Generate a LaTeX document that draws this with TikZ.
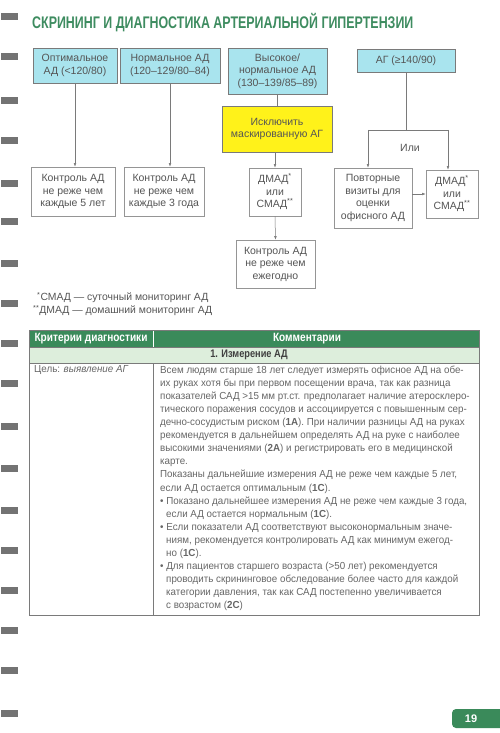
\documentclass[tikz,border=0pt]{standalone}
\usepackage{fontspec}
\setmainfont{Liberation Sans}
\newfontfamily\condfont{Liberation Sans}[FakeStretch=0.96]
\newfontfamily\headfont{Liberation Sans}[FakeStretch=0.84]
\newfontfamily\titlefont{Liberation Sans}[FakeStretch=0.74]
\usetikzlibrary{positioning, arrows.meta}
\definecolor{gTitle}{HTML}{3E8C60}
\definecolor{gHead}{HTML}{3A8A5A}
\definecolor{gLight}{HTML}{DDEEDC}
\definecolor{bCyan}{HTML}{A9E4EE}
\definecolor{bYellow}{HTML}{FFF21A}
\definecolor{txtGray}{HTML}{555555}
\definecolor{lineGray}{HTML}{7A7A7A}

\begin{document}
\begin{tikzpicture}[
  x=1pt, y=-1pt,
  every node/.style={font=\fontsize{10.5}{12.5}\selectfont, align=center, text=txtGray, inner sep=1pt},
  level/.style={
    fill=bCyan,
    draw=lineGray,
    line width=0.6pt
  },
  action/.style={
    fill=bYellow,
    draw=lineGray,
    line width=0.6pt
  },
  result/.style={
    fill=white,
    draw=lineGray!80,
    line width=0.6pt
  },
  link/.style={draw=lineGray, -{Latex[length=3.5pt,width=2.6pt]}, line width=0.5pt},
  plain/.style={draw=lineGray, line width=0.5pt},
  note/.style={font=\fontsize{10.4}{12.5}\selectfont, anchor=west},
  cell/.style={font=\condfont\fontsize{10.2}{13.1}\selectfont, text=txtGray!90, align=left, anchor=north west},
  binder/.style={fill=black!55}
]
\useasboundingbox (0,0) rectangle (500,733);

% binding
\foreach \y in {13,53,97,137,180,218,260,300,340,380,423,465,507,547,587,627,667,710}
  \fill[binder] (1,\y) rectangle (18,\y+7);

% title
\node[anchor=west, text=gTitle, font=\titlefont\bfseries\fontsize{16.8}{20}\selectfont] (title) at (31,23)
  {СКРИНИНГ И ДИАГНОСТИКА АРТЕРИАЛЬНОЙ ГИПЕРТЕНЗИИ};

% pressure levels
\node[level, minimum width=84pt, minimum height=35pt] (opt) at (75,65.5) {Оптимальное\\АД (<120/80)};
\node[level, minimum width=100pt, minimum height=35pt] (norm) at (170,65.5) {Нормальное АД\\(120–129/80–84)};
\node[level, minimum width=99pt, minimum height=46pt] (high) at (277.5,71) {Высокое/\\нормальное АД\\(130–139/85–89)};
\node[level, minimum width=98pt, minimum height=23pt] (ag) at (406,60.5) {АГ (≥140/90)};

\node[action, minimum width=110pt, minimum height=46pt] (mask) at (277,129) {Исключить\\маскированную АГ};

% results
\node[result, minimum width=84pt, minimum height=49pt] (ctrlfive) at (73,191.5) {Контроль АД\\не реже чем\\каждые 5 лет};
\node[result, minimum width=80pt, minimum height=49pt] (ctrlthree) at (164,191.5) {Контроль АД\\не реже чем\\каждые 3 года};
\node[result, minimum width=52pt, minimum height=48pt] (dmada) at (275,192) {ДМАД\textsuperscript{*}\\или\\СМАД\textsuperscript{**}};
\node[result, minimum width=79pt, minimum height=48pt] (ctrlyear) at (275.5,264) {Контроль АД\\не реже чем\\ежегодно};
\node[result, minimum width=78pt, minimum height=60pt] (visits) at (373,198) {Повторные\\визиты для\\оценки\\офисного АД};
\node[result, minimum width=52pt, minimum height=48pt] (dmadb) at (452,194) {ДМАД\textsuperscript{*}\\или\\СМАД\textsuperscript{**}};

\coordinate (forkL) at (368,130);
\coordinate (forkR) at (448,130);
\node (ili) at (410,148) {Или};

\draw[link] (opt.south) -- (opt.south |- ctrlfive.north);
\draw[link] (norm.south) -- (norm.south |- ctrlthree.north);
\draw[plain] (high.south) -- (high.south |- mask.north);
\draw[link] (mask.south -| dmada.north) -- (dmada.north);
\draw[link] (dmada.south) -- (ctrlyear.north);
\draw[plain] (ag.south) -- (ag.south |- forkL);
\draw[plain] (forkL) -- (forkR);
\draw[link] (forkL) -- (forkL |- visits.north);
\draw[link] (forkR) -- (forkR |- dmadb.north);
\draw[link] (visits.east |- dmadb.west) -- (dmadb.west);

% footnotes
\node[note] (fna) at (36,297.5) {\textsuperscript{*}СМАД — суточный мониторинг АД};
\node[note] (fnb) at (32,310.5) {\textsuperscript{**}ДМАД — домашний мониторинг АД};

% table
\fill[gHead] (29,330) rectangle (479,347);
\fill[gLight] (29,347) rectangle (479,363);
\draw[plain, draw=white, line width=0.8pt] (153,330) -- (153,347);
\draw[plain] (29,347) -- (479,347);
\draw[plain] (29,363) -- (479,363);
\draw[plain] (153,363) -- (153,615);
\draw[plain] (29,330) rectangle (479,615);

\node[font=\headfont\bfseries\fontsize{12}{13}\selectfont, text=white] (hcrit) at (91,338.5) {Критерии диагностики};
\node[font=\headfont\bfseries\fontsize{12}{13}\selectfont, text=white] (hcomm) at (307,338.5) {Комментарии};
\node[font=\headfont\bfseries\fontsize{11}{12}\selectfont, text=black!75] (sect) at (249,355) {1. Измерение АД};

\node[cell] (goal) at (33,364.5) {Цель: \textit{выявление АГ}};
\node[cell] (comm) at (159,364.5) {%
Всем людям старше 18 лет следует измерять офисное АД на обе-\\
их руках хотя бы при первом посещении врача, так как разница\\
показателей САД >15 мм рт.ст. предполагает наличие атеросклеро-\\
тического поражения сосудов и ассоциируется с повышенным сер-\\
дечно-сосудистым риском (\textbf{1А}). При наличии разницы АД на руках\\
рекомендуется в дальнейшем определять АД на руке с наиболее\\
высокими значениями (\textbf{2А}) и регистрировать его в медицинской\\
карте.\\
Показаны дальнейшие измерения АД не реже чем каждые 5 лет,\\
если АД остается оптимальным (\textbf{1С}).\\
• Показано дальнейшее измерения АД не реже чем каждые 3 года,\\
\hspace*{6pt}если АД остается нормальным (\textbf{1С}).\\
• Если показатели АД соответствуют высоконормальным значе-\\
\hspace*{6pt}ниям, рекомендуется контролировать АД как минимум ежегод-\\
\hspace*{6pt}но (\textbf{1С}).\\
• Для пациентов старшего возраста (>50 лет) рекомендуется\\
\hspace*{6pt}проводить скрининговое обследование более часто для каждой\\
\hspace*{6pt}категории давления, так как САД постепенно увеличивается\\
\hspace*{6pt}с возрастом (\textbf{2С})};

% page number
\fill[gHead, rounded corners=4pt] (452,709) rectangle (510,728);
\node[font=\bfseries\fontsize{11}{12}\selectfont, text=white] (page) at (471,718.5) {19};

\end{tikzpicture}
\end{document}
